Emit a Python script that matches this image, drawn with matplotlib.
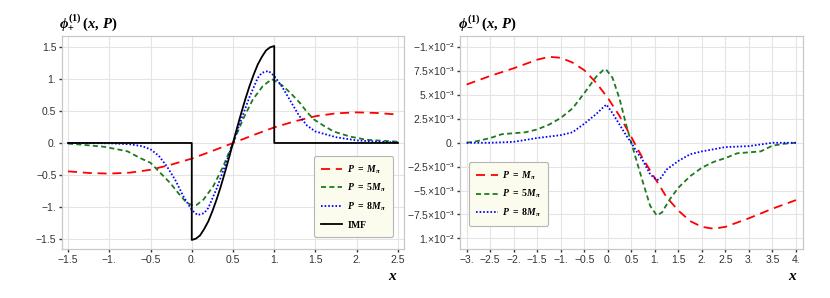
import matplotlib
matplotlib.use("Agg")
import matplotlib.pyplot as plt

plt.rcParams['font.family'] = ['Liberation Sans', 'DejaVu Sans']
plt.rcParams['mathtext.fontset'] = 'custom'
plt.rcParams['mathtext.rm'] = 'Liberation Serif:bold'
plt.rcParams['mathtext.it'] = 'Liberation Serif:italic:bold'
plt.rcParams['mathtext.bf'] = 'Liberation Serif:bold'

# panel izquierdo: phi_+
x_m1 = [-1.5, -1.25, -1, -0.75, -0.5, -0.25, 0, 0.25, 0.5, 0.75, 1, 1.25, 1.5, 1.75, 2, 2.25, 2.5]
y_m1 = [-0.445, -0.47, -0.48, -0.465, -0.42, -0.34, -0.245, -0.125, 0, 0.125, 0.245, 0.34, 0.42, 0.465, 0.48, 0.47, 0.445]

x_m5 = [-1.5, -1.35, -1.06, -0.78, -0.62, -0.5, -0.38, -0.26, -0.16, -0.06, 0, 0.06, 0.14, 0.26, 0.38, 0.5,
        0.62, 0.74, 0.86, 0.94, 0.97, 1.0, 1.1, 1.2, 1.31, 1.4, 1.48, 1.6, 1.72, 1.92, 2.12, 2.5]
y_m5 = [-0.01, -0.025, -0.06, -0.13, -0.24, -0.31, -0.47, -0.63, -0.79, -0.94, -0.97, -0.97, -0.89, -0.68, -0.37, 0,
        0.37, 0.68, 0.89, 0.97, 1.0, 0.98, 0.9, 0.78, 0.63, 0.48, 0.37, 0.27, 0.18, 0.1, 0.05, 0.02]

x_m8 = [-1.5, -1, -0.75, -0.6, -0.5, -0.4, -0.3, -0.2, -0.1, 0, 0.07, 0.15, 0.2, 0.3, 0.4, 0.5,
        0.6, 0.7, 0.8, 0.85, 0.93, 1, 1.1, 1.2, 1.3, 1.4, 1.5, 1.75, 2, 2.25, 2.5]
y_m8 = [0, -0.005, -0.02, -0.05, -0.1, -0.2, -0.37, -0.58, -0.84, -1.05, -1.13, -1.1, -1.02, -0.72, -0.37, 0,
        0.37, 0.72, 1.02, 1.1, 1.13, 1.05, 0.87, 0.65, 0.43, 0.27, 0.18, 0.09, 0.04, 0.02, 0.01]

x_imf = [-1.5, 0, 0, 0.05, 0.1, 0.15, 0.2, 0.25, 0.3, 0.35, 0.4, 0.45, 0.5,
         0.55, 0.6, 0.65, 0.7, 0.75, 0.8, 0.85, 0.9, 0.95, 1, 1, 2.5]
y_imf = [0, 0, -1.52, -1.50, -1.45, -1.35, -1.23, -1.07, -0.89, -0.69, -0.47, -0.24, 0,
         0.24, 0.47, 0.69, 0.89, 1.07, 1.23, 1.35, 1.45, 1.50, 1.52, 0, 0]

# panel derecho: phi_-
xr_m1 = [-3, -2.5, -2, -1.5, -1.25, -1, -0.75, -0.5, -0.25, 0, 0.25, 0.5, 0.75, 1, 1.25, 1.5, 1.75, 2, 2.25, 2.5, 3, 3.5, 4]
yr_m1 = [0.0061, 0.0070, 0.0078, 0.0087, 0.0090, 0.0089, 0.0084, 0.0076, 0.0063, 0.0047, 0.0028, 0.0006, -0.0017,
         -0.0037, -0.0057, -0.0071, -0.0082, -0.0088, -0.0090, -0.0088, -0.0079, -0.0069, -0.0060]

xr_m5 = [-3, -2.75, -2.5, -2.25, -2, -1.75, -1.5, -1.25, -1, -0.75, -0.5, -0.25, -0.1, -0.04, 0.1, 0.25, 0.4, 0.5,
         0.6, 0.75, 0.9, 1.04, 1.15, 1.32, 1.5, 1.75, 2, 2.25, 2.5, 2.75, 3, 3.25, 3.5, 3.75, 4]
yr_m5 = [0, 0.0002, 0.0005, 0.0009, 0.001, 0.0011, 0.0014, 0.0019, 0.0026, 0.0036, 0.0052, 0.0069, 0.0076, 0.0077,
         0.0068, 0.0046, 0.0017, 0, -0.0017, -0.0042, -0.0066, -0.0076, -0.0073, -0.0059, -0.0047, -0.0035, -0.0026,
         -0.002, -0.0016, -0.0011, -0.001, -0.0009, -0.0003, -0.0001, 0]

xr_m8 = [-3, -2.5, -2, -1.5, -1, -0.75, -0.5, -0.25, -0.1, -0.03, 0.1, 0.25, 0.4, 0.5, 0.61, 0.75, 0.9, 1.04, 1.11,
         1.25, 1.5, 1.75, 2, 2.5, 3, 3.5, 4]
yr_m8 = [0, 0, 0.0001, 0.0005, 0.0008, 0.0011, 0.002, 0.003, 0.0037, 0.004, 0.0031, 0.0019, 0.0007, 0, -0.0009,
         -0.0019, -0.0033, -0.0039, -0.0038, -0.0028, -0.0019, -0.0012, -0.0009, -0.00045, -0.00035, 0, 0]

xt_izq = [-1.5, -1, -0.5, 0, 0.5, 1, 1.5, 2, 2.5]
xl_izq = ['\u22121.5', '\u22121.', '\u22120.5', '0.', '0.5', '1.', '1.5', '2.', '2.5']
yt_izq = [-1.5, -1, -0.5, 0, 0.5, 1, 1.5]
yl_izq = ['\u22121.5', '\u22121.', '\u22120.5', '0.', '0.5', '1.', '1.5']

xt_der = [-3, -2.5, -2, -1.5, -1, -0.5, 0, 0.5, 1, 1.5, 2, 2.5, 3, 3.5, 4]
xl_der = ['\u22123.', '\u22122.5', '\u22122.', '\u22121.5', '\u22121.', '\u22120.5', '0.', '0.5', '1.', '1.5',
          '2.', '2.5', '3.', '3.5', '4.']
yt_der = [-0.01, -0.0075, -0.005, -0.0025, 0, 0.0025, 0.005, 0.0075, 0.01]
# las etiquetas tal como salen en la figura original (incluido el signo raro de los extremos)
yl_der = ['1.\u00d710$^{-2}$', '\u22127.5\u00d710$^{-3}$', '\u22125.\u00d710$^{-3}$',
          '\u22122.5\u00d710$^{-3}$', '0.', '2.5\u00d710$^{-3}$', '5.\u00d710$^{-3}$', '7.5\u00d710$^{-3}$',
          '\u22121.\u00d710$^{-2}$']

rojo = '#ff0000'
verde = '#1f7a1f'
azul = '#0000ff'

fig = plt.figure(figsize=(8.3, 2.98), dpi=100)
ax1 = fig.add_axes([62 / 830, 1 - 249 / 298, 342 / 830, 213 / 298])
ax2 = fig.add_axes([460 / 830, 1 - 249 / 298, 343 / 830, 213 / 298])

ax1.plot(x_m1, y_m1, color=rojo, lw=1.3, dashes=(5, 3.2), label=r'$P\ =\ M_{\pi}$')
ax1.plot(x_m5, y_m5, color=verde, lw=1.3, dashes=(2.8, 1.8), label=r'$P\ =\ 5M_{\pi}$')
ax1.plot(x_m8, y_m8, color=azul, lw=1.3, dashes=(0.9, 1.1), label=r'$P\ =\ 8M_{\pi}$')
ax1.plot(x_imf, y_imf, color='black', lw=1.3, label=r'$\mathrm{IMF}$')

ax2.plot(xr_m1, yr_m1, color=rojo, lw=1.3, dashes=(5, 3.2), label=r'$P\ =\ M_{\pi}$')
ax2.plot(xr_m5, yr_m5, color=verde, lw=1.3, dashes=(2.8, 1.8), label=r'$P\ =\ 5M_{\pi}$')
ax2.plot(xr_m8, yr_m8, color=azul, lw=1.3, dashes=(0.9, 1.1), label=r'$P\ =\ 8M_{\pi}$')

ax1.set_xlim(-1.573, 2.573)
ax1.set_ylim(-1.662, 1.677)
ax2.set_xlim(-3.142, 4.149)
ax2.set_ylim(-0.01112, 0.01118)

ax1.set_xticks(xt_izq, xl_izq)
ax1.set_yticks(yt_izq, yl_izq)
ax2.set_xticks(xt_der, xl_der)
ax2.set_yticks(yt_der, yl_der)

for ax in (ax1, ax2):
    ax.grid(True, color='#e4e4e4', lw=0.8)
    ax.set_axisbelow(True)
    for s in ax.spines.values():
        s.set_color('#c8c8c8')
        s.set_linewidth(0.9)
    ax.tick_params(direction='out', length=2.5, width=1.0, color='#333333',
                   labelsize=7.5, labelcolor='#333333', pad=1.5)

ax1.text(-0.01, 1.015, r'$\phi^{(1)}_{+}\,(x,\,P)$', transform=ax1.transAxes, fontsize=10.5, va='bottom')
ax2.text(-0.006, 1.015, r'$\phi^{(1)}_{-}\,(x,\,P)$', transform=ax2.transAxes, fontsize=10.5, va='bottom')
fig.text(388 / 830, 1 - 280 / 298, r'$x$', fontsize=11)
fig.text(788 / 830, 1 - 280 / 298, r'$x$', fontsize=11)

estilo_leyenda = dict(fontsize=7, handlelength=2.2, handletextpad=0.45, labelspacing=0.62,
                      fancybox=True, facecolor='#fbfbee', edgecolor='#b5b5b5', framealpha=1,
                      borderpad=0.75, borderaxespad=0)
leg1 = ax1.legend(loc='lower right', bbox_to_anchor=(0.968, 0.056), **estilo_leyenda)
leg2 = ax2.legend(loc='upper left', bbox_to_anchor=(0.026, 0.408), **estilo_leyenda)
for leg in (leg1, leg2):
    leg.get_frame().set_linewidth(0.8)

fig.savefig('out.png', dpi=100)
